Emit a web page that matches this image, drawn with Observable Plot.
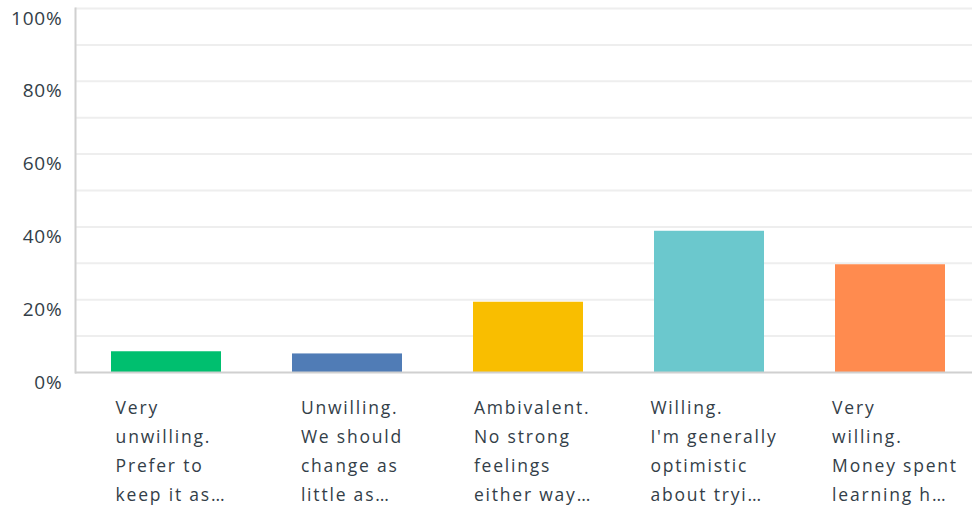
<!DOCTYPE html>
<html>
<head>
<meta charset="utf-8">
<script src="https://cdn.jsdelivr.net/npm/d3@7"></script>
<script src="https://cdn.jsdelivr.net/npm/@observablehq/plot@0.6"></script>
<style>
  html, body { margin: 0; padding: 0; background: #ffffff; }
  #chart svg { display: block; }
</style>
</head>
<body>
<div id="chart"></div>
<script>
const categories = [
  "Very unwilling. Prefer to keep it as…",
  "Unwilling. We should change as little as…",
  "Ambivalent. No strong feelings either way…",
  "Willing. I'm generally optimistic about tryi…",
  "Very willing. Money spent learning h…"
];
const labelLines = [
  ["Very", "unwilling.", "Prefer to", "keep it as…"],
  ["Unwilling.", "We should", "change as", "little as…"],
  ["Ambivalent.", "No strong", "feelings", "either way…"],
  ["Willing.", "I'm generally", "optimistic", "about tryi…"],
  ["Very", "willing.", "Money spent", "learning h…"]
];
const values = [5.7, 5.1, 19.3, 38.8, 29.6];
const colors = ["#00bf6f", "#507cb6", "#f9be00", "#6bc8cd", "#ff8b4f"];
const yTickLabels = [0, 20, 40, 60, 80, 100];
const yGridLines = [10, 20, 30, 40, 50, 60, 70, 80, 90, 100];

const data = categories.map((c, i) => ({
  cat: c, value: values[i], color: colors[i], label: labelLines[i].join("\n")
}));

const textColor = "#333e48";

const plot = Plot.plot({
  width: 972,
  height: 510,
  marginTop: 8,
  marginBottom: 138,
  marginLeft: 75,
  marginRight: 0,
  style: { fontFamily: "'Open Sans', sans-serif", color: textColor, background: "#ffffff" },
  x: { domain: categories, range: [75.5, 980.5], paddingInner: 0.392, paddingOuter: 0.196, axis: null },
  y: { domain: [0, 100], axis: null },
  marks: [
    Plot.ruleY(yGridLines, { stroke: "#eeeeee", strokeWidth: 2 }),
    Plot.barY(data, { x: "cat", y: "value", fill: "color" }),
    Plot.ruleY([0], { stroke: "#d0d0d0", strokeWidth: 2 }),
    Plot.frame({ anchor: "left", stroke: "#d0d0d0", strokeWidth: 2 }),
    Plot.text(yTickLabels, {
      y: d => d, frameAnchor: "left", text: d => d + "%",
      textAnchor: "end", dx: -13, dy: 10, fontSize: 19, fill: textColor
    }),
    Plot.text(data, {
      x: "cat", frameAnchor: "bottom", text: "label",
      textAnchor: "start", lineAnchor: "top", lineHeight: 1.66,
      dy: 21, fontSize: 17.5, fill: textColor
    })
  ]
});

document.getElementById("chart").appendChild(plot);

// Letter spacing and centering of each multi-line category label as a left-aligned block
const textGroups = plot.querySelectorAll("g[aria-label='text']");
const yGroup = textGroups[0];
const xGroup = textGroups[1];
yGroup.querySelectorAll("text").forEach(t => { t.style.letterSpacing = "0.8px"; });
const xs = plot.scale("x");
const bw = xs.bandwidth;
const svgLeft = plot.getBoundingClientRect().left;
xGroup.querySelectorAll(":scope > text").forEach((t, i) => {
  t.style.letterSpacing = "1.8px";
  const r = t.getBoundingClientRect();
  const curLeft = r.left - svgLeft;
  const desiredLeft = xs.apply(categories[i]) + bw / 2 + 5 - r.width / 2;
  const delta = desiredLeft - curLeft;
  const old = t.getAttribute("transform") || "";
  t.setAttribute("transform", `translate(${delta},0) ` + old);
});
</script>
</body>
</html>
